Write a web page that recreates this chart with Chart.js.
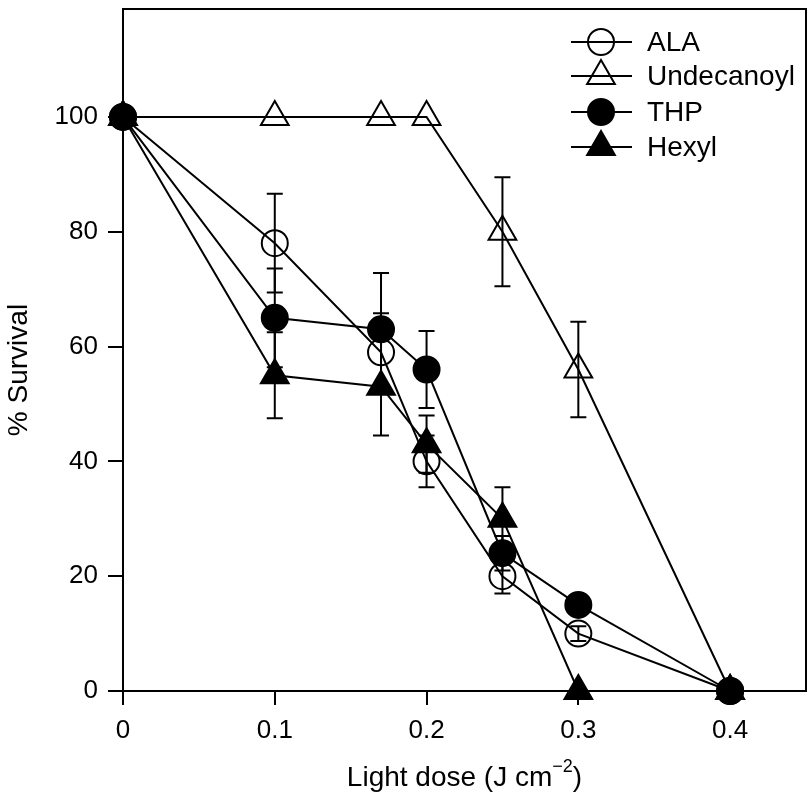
<!DOCTYPE html>
<html><head><meta charset="utf-8">
<style>html,body{margin:0;padding:0;background:#fff}#wrap{width:812px;height:796px}</style>
<script src="https://cdn.jsdelivr.net/npm/chart.js@4"></script>
</head>
<body><div id="wrap"><canvas id="c" width="812" height="796"></canvas></div>
<script>
const doses = [0, 0.1, 0.17, 0.2, 0.25, 0.3, 0.4];
const seriesNames = ['ALA', 'Undecanoyl', 'THP', 'Hexyl'];
const alaValues   = [100, 78, 59, 40, 20, 10, 0];
const undecValues = [100, 100, 100, 100, 80, 56, 0];
const thpValues   = [100, 65, 63, 56, 24, 15, 0];
const hexylValues = [100, 55, 53, 43, 30, 0, 0];
const alaErr   = [0, 8.6, 6.8, 4.5, 3, 1.3, 0];
const undecErr = [0, 0, 0, 0, 9.5, 8.3, 0];
const thpErr   = [0, 8.6, 9.8, 6.7, 3, 0, 0];
const hexylErr = [0, 7.5, 8.5, 5, 5.5, 0, 0];
const xTicks = [0, 0.1, 0.2, 0.3, 0.4];
const yTicks = [0, 20, 40, 60, 80, 100];
const xTitle = 'Light dose (J cm';
const xTitleSup = '\u22122';
const yTitle = '% Survival';

const FONT = '"Liberation Sans", Arial, Helvetica, sans-serif';
Chart.defaults.font.family = FONT;
Chart.defaults.color = '#000';

const styles = [
  {shape: 'circle', r: 13, fill: false},
  {shape: 'triangle', r: 16, fill: false},
  {shape: 'circle', r: 13, fill: true},
  {shape: 'triangle', r: 16, fill: true}
];
const valuesList = [alaValues, undecValues, thpValues, hexylValues];
const errList = [alaErr, undecErr, thpErr, hexylErr];

const datasets = seriesNames.map((name, i) => ({
  label: name,
  data: doses.map((d, j) => ({x: d, y: valuesList[i][j]})),
  err: errList[i],
  borderColor: '#000',
  borderWidth: 2,
  pointStyle: styles[i].shape,
  pointRadius: styles[i].r,
  pointHoverRadius: styles[i].r,
  pointBorderWidth: 2,
  pointBorderColor: '#000',
  pointBackgroundColor: styles[i].fill ? '#000' : 'rgba(0,0,0,0)',
  fill: false,
  tension: 0,
  clip: false
}));

function drawMarker(ctx, st, x, y) {
  ctx.save();
  ctx.lineWidth = 2;
  ctx.strokeStyle = '#000';
  ctx.fillStyle = '#000';
  ctx.beginPath();
  if (st.shape === 'circle') {
    ctx.arc(x, y, st.r, 0, Math.PI * 2);
  } else {
    const r = st.r;
    ctx.moveTo(x, y - r);
    ctx.lineTo(x + r * Math.sin(2 * Math.PI / 3), y - r * Math.cos(2 * Math.PI / 3));
    ctx.lineTo(x + r * Math.sin(4 * Math.PI / 3), y - r * Math.cos(4 * Math.PI / 3));
    ctx.closePath();
  }
  if (st.fill) ctx.fill();
  ctx.stroke();
  ctx.restore();
}

const decor = {
  id: 'decor',
  beforeDatasetsDraw(chart) {
    const ctx = chart.ctx, xs = chart.scales.x, ys = chart.scales.y;
    ctx.save();
    ctx.strokeStyle = '#000';
    ctx.lineWidth = 2;
    chart.data.datasets.forEach(ds => {
      ds.data.forEach((p, j) => {
        const e = ds.err[j];
        if (!e) return;
        const px = xs.getPixelForValue(p.x);
        const y1 = ys.getPixelForValue(p.y + e);
        const y2 = ys.getPixelForValue(p.y - e);
        ctx.beginPath();
        ctx.moveTo(px, y1); ctx.lineTo(px, y2);
        ctx.moveTo(px - 8, y1); ctx.lineTo(px + 8, y1);
        ctx.moveTo(px - 8, y2); ctx.lineTo(px + 8, y2);
        ctx.stroke();
      });
    });
    ctx.restore();
  },
  afterDraw(chart) {
    const ctx = chart.ctx, a = chart.chartArea;
    ctx.save();
    ctx.strokeStyle = '#000';
    ctx.lineWidth = 2;
    ctx.strokeRect(a.left, a.top, a.right - a.left, a.bottom - a.top);
    // legend
    const rows = [42, 76, 112, 147];
    ctx.font = '28px ' + FONT;
    ctx.fillStyle = '#000';
    ctx.textBaseline = 'middle';
    seriesNames.forEach((n, i) => {
      const y = rows[i];
      ctx.beginPath();
      ctx.moveTo(571, y); ctx.lineTo(632, y);
      ctx.stroke();
      drawMarker(ctx, styles[i], 601, y);
      ctx.fillText(n, 647, y + 1);
    });
    // x title
    ctx.textBaseline = 'alphabetic';
    ctx.font = '28px ' + FONT;
    const w1 = ctx.measureText(xTitle).width;
    ctx.font = '18px ' + FONT;
    const w2 = ctx.measureText(xTitleSup).width;
    ctx.font = '28px ' + FONT;
    const w3 = ctx.measureText(')').width;
    const total = w1 + w2 + w3;
    let sx = (a.left + a.right) / 2 - total / 2;
    const base = 786;
    ctx.fillText(xTitle, sx, base);
    ctx.font = '18px ' + FONT;
    ctx.fillText(xTitleSup, sx + w1, base - 14);
    ctx.font = '28px ' + FONT;
    ctx.fillText(')', sx + w1 + w2, base);
    // y title
    ctx.translate(27, 370);
    ctx.rotate(-Math.PI / 2);
    ctx.textAlign = 'center';
    ctx.fillText(yTitle, 0, 0);
    ctx.restore();
  }
};

new Chart(document.getElementById('c'), {
  type: 'line',
  data: {datasets},
  options: {
    responsive: false,
    animation: false,
    devicePixelRatio: 1,
    layout: {autoPadding: false, padding: {top: 9, right: 6, left: 0, bottom: 0}},
    plugins: {legend: {display: false}, tooltip: {enabled: false}},
    scales: {
      x: {
        type: 'linear', min: 0, max: 0.45,
        afterBuildTicks: s => { s.ticks = xTicks.map(v => ({value: v})); },
        afterFit: s => { s.height = 105; s.paddingLeft = 0; s.paddingRight = 0; },
        border: {display: false},
        grid: {drawOnChartArea: false, drawTicks: true, tickLength: 14, color: '#000', lineWidth: 2},
        ticks: {font: {size: 26}, color: '#000', padding: 10, maxRotation: 0,
                callback: v => String(v)}
      },
      y: {
        type: 'linear', min: 0, max: 118.8,
        afterBuildTicks: s => { s.ticks = yTicks.map(v => ({value: v})); },
        afterFit: s => { s.width = 123; s.paddingTop = 0; s.paddingBottom = 0; },
        border: {display: false},
        grid: {drawOnChartArea: false, drawTicks: true, tickLength: 15, color: '#000', lineWidth: 2},
        ticks: {font: {size: 26}, color: '#000', padding: 10, callback: v => String(v)}
      }
    }
  },
  plugins: [decor]
});
</script>
</body></html>
